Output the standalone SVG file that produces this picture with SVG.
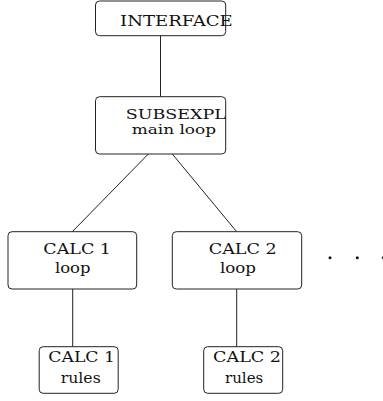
<svg xmlns="http://www.w3.org/2000/svg" width="383" height="401" viewBox="0 0 383 401">
<style>
.box{fill:#fff;stroke:#222;stroke-width:1}
.edge{stroke:#222;stroke-width:1;fill:none}
.t{font-family:'DejaVu Serif','Liberation Serif',serif;font-size:15px;fill:#111}
.s{font-size:13px}
.dot{fill:#111}
</style>
<rect width="383" height="401" fill="#fff"/>
<g id="connectors">
<line class="edge" x1="160.5" y1="35.7" x2="160.5" y2="96.7"/>
<line class="edge" x1="148.3" y1="154" x2="72.3" y2="231.7"/>
<line class="edge" x1="172.3" y1="154" x2="236.7" y2="231.7"/>
<line class="edge" x1="72.7" y1="289" x2="72.7" y2="346.7"/>
<line class="edge" x1="236.7" y1="289" x2="236.7" y2="346.7"/>
</g>
<g id="interface">
<rect class="box" x="95.5" y="1" width="130.2" height="34.7" rx="4"/>
<text class="t" x="120" y="25.7" textLength="112.7" lengthAdjust="spacingAndGlyphs">INTERFACE</text>
</g>
<g id="subsexpl">
<rect class="box" x="95.5" y="96.7" width="130.2" height="57.3" rx="4"/>
<text class="t s" x="125.7" y="119" textLength="100.3" lengthAdjust="spacingAndGlyphs">SUBSEXPL</text>
<text class="t s" x="131.7" y="133.5" textLength="84.3" lengthAdjust="spacingAndGlyphs">main loop</text>
</g>
<g id="calc1loop">
<rect class="box" x="8" y="231.7" width="128.7" height="57.3" rx="4"/>
<text class="t" x="43.3" y="254.3" textLength="67.7" lengthAdjust="spacingAndGlyphs">CALC 1</text>
<text class="t" x="55" y="273" textLength="35.5" lengthAdjust="spacingAndGlyphs">loop</text>
</g>
<g id="calc2loop">
<rect class="box" x="172.3" y="231.7" width="129.4" height="57.3" rx="4"/>
<text class="t" x="208.7" y="254.3" textLength="68" lengthAdjust="spacingAndGlyphs">CALC 2</text>
<text class="t" x="220" y="273" textLength="36" lengthAdjust="spacingAndGlyphs">loop</text>
</g>
<g id="ellipsis">
<circle class="dot" cx="330" cy="257.7" r="1.5"/>
<circle class="dot" cx="357.3" cy="257.7" r="1.5"/>
<circle class="dot" cx="383.3" cy="257.7" r="1.5"/>
</g>
<g id="calc1rules">
<rect class="box" x="39.2" y="346.7" width="79" height="46.6" rx="4"/>
<text class="t" x="48.3" y="361.7" textLength="66.7" lengthAdjust="spacingAndGlyphs">CALC 1</text>
<text class="t" x="60.7" y="383.3" textLength="40" lengthAdjust="spacingAndGlyphs">rules</text>
</g>
<g id="calc2rules">
<rect class="box" x="203.7" y="346.7" width="79" height="46.6" rx="4"/>
<text class="t" x="213" y="361.7" textLength="68" lengthAdjust="spacingAndGlyphs">CALC 2</text>
<text class="t" x="225" y="383.3" textLength="38.3" lengthAdjust="spacingAndGlyphs">rules</text>
</g>
</svg>
